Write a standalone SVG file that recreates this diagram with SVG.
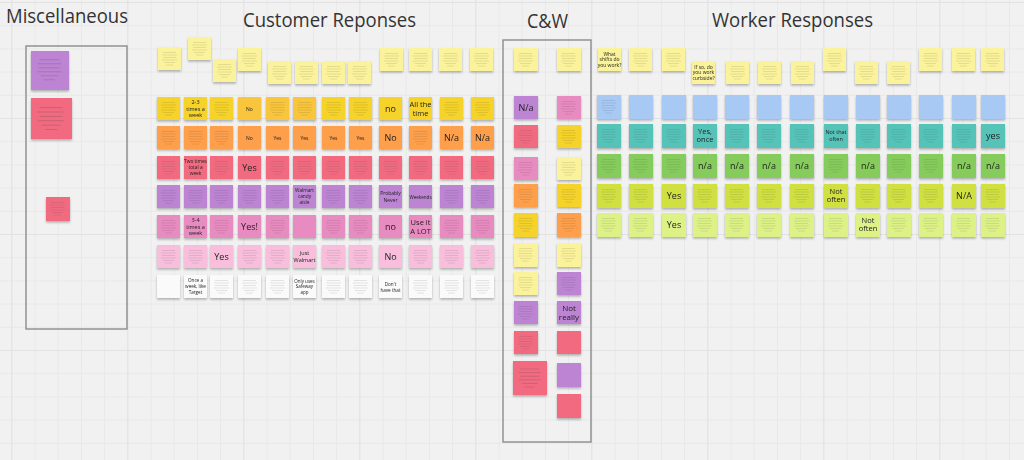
<svg xmlns="http://www.w3.org/2000/svg" xmlns:xlink="http://www.w3.org/1999/xlink" width="1024" height="460" viewBox="0 0 1024 460">
<style>
.ly{fill:#fbf39b}.y{fill:#f5d32c}.yo{fill:#f8c53c}.o{fill:#fd9f4b}.r{fill:#f16b80}.p{fill:#bd84d3}.m{fill:#e88bc0}.lp{fill:#f8bedb}.w{fill:#fafafa}.b{fill:#a7c9f3}.t{fill:#56c3b9}.g{fill:#86cc5b}.yg{fill:#cfe041}.l{fill:#dcf287}
.ttl{font-family:"Open Sans","Noto Sans",sans-serif;fill:#333;font-size:20px}
.n{font-family:"Open Sans","Noto Sans",sans-serif;fill:#222;text-anchor:middle}
.frame{fill:none;stroke:#8c8c8c;stroke-width:1.4}
</style>
<defs>
<pattern id="gmin" x="11.3" y="2" width="23.2" height="23.2" patternUnits="userSpaceOnUse"><path d="M0.5 0V23.2M0 0.5H23.2" stroke="#e8e8e8" stroke-width="1" fill="none"/></pattern>
<pattern id="gmaj" x="11.3" y="2" width="116" height="116" patternUnits="userSpaceOnUse"><path d="M0.5 0V116M0 0.5H116" stroke="#e2e2e2" stroke-width="1.2" fill="none"/></pattern>
<filter id="sh" x="-10%" y="-10%" width="120%" height="130%"><feDropShadow dx="0" dy="1.6" stdDeviation="1" flood-color="#000" flood-opacity="0.28"/></filter>
<symbol id="tx" overflow="visible"><path d="M5 5.5h13M4 8h15M5 10.5h13M4 13h15M6 15.5h11M8 18h7" stroke="#333" stroke-opacity="0.24" stroke-width="0.5" fill="none"/></symbol>
</defs>
<rect width="1024" height="460" fill="#f1f1f1"/>
<rect width="1024" height="460" fill="url(#gmin)"/>
<rect width="1024" height="460" fill="url(#gmaj)"/>

<g id="titles">
<text class="ttl" x="6" y="23" font-size="21" textLength="122" lengthAdjust="spacingAndGlyphs">Miscellaneous</text>
<text class="ttl" x="243" y="27" textLength="173" lengthAdjust="spacingAndGlyphs">Customer Reponses</text>
<text class="ttl" x="527" y="28" textLength="41" lengthAdjust="spacingAndGlyphs">C&amp;W</text>
<text class="ttl" x="712" y="27" textLength="161" lengthAdjust="spacingAndGlyphs">Worker Responses</text>
</g>

<g id="frames">
<rect id="frame-misc" class="frame" x="26" y="46" width="101" height="283"/>
<rect id="frame-cw" class="frame" x="503" y="40" width="88" height="402"/>
</g>

<g id="connectors"></g>

<g id="stickies" filter="url(#sh)">
<!-- Miscellaneous -->
<g id="misc-1"><rect class="p" x="31" y="51" width="38" height="39"/><use href="#tx" transform="translate(31 51) scale(1.6)"/></g>
<g id="misc-2"><rect class="r" x="31" y="98" width="41" height="41"/><use href="#tx" transform="translate(31 98) scale(1.75)"/></g>
<g id="misc-3"><rect class="r" x="46" y="197" width="24" height="24"/><use href="#tx" x="46" y="197"/></g>

<!-- Customer questions -->
<g id="cq1"><rect class="ly" x="158" y="47" width="23" height="23"/><use href="#tx" x="158" y="47"/></g>
<g id="cq2"><rect class="ly" x="188" y="37" width="23" height="23"/><use href="#tx" x="188" y="37"/></g>
<g id="cq3"><rect class="ly" x="213" y="59" width="23" height="23"/><use href="#tx" x="213" y="59"/></g>
<g id="cq4"><rect class="ly" x="238" y="48" width="23" height="23"/><use href="#tx" x="238" y="48"/></g>
<g id="cq5"><rect class="ly" x="268" y="61" width="23" height="23"/><use href="#tx" x="268" y="61"/></g>
<g id="cq6"><rect class="ly" x="295" y="61" width="23" height="23"/><use href="#tx" x="295" y="61"/></g>
<g id="cq7"><rect class="ly" x="322" y="61" width="23" height="23"/><use href="#tx" x="322" y="61"/></g>
<g id="cq8"><rect class="ly" x="348" y="61" width="23" height="23"/><use href="#tx" x="348" y="61"/></g>
<g id="cq9"><rect class="ly" x="380" y="48" width="23" height="23"/><use href="#tx" x="380" y="48"/></g>
<g id="cq10"><rect class="ly" x="409" y="48" width="23" height="23"/><use href="#tx" x="409" y="48"/></g>
<g id="cq11"><rect class="ly" x="439" y="48" width="23" height="23"/><use href="#tx" x="439" y="48"/></g>
<g id="cq12"><rect class="ly" x="470" y="48" width="23" height="23"/><use href="#tx" x="470" y="48"/></g>

<!-- Customer row 1 -->
<g id="c1-1"><rect class="y" x="157" y="97" width="23" height="23"/><use href="#tx" x="157" y="97"/></g>
<g id="c1-2"><rect class="y" x="184" y="97" width="23" height="23"/><text class="n" font-size="5.5"><tspan x="195.5" y="104">2-3</tspan><tspan x="195.5" y="110.5">times a</tspan><tspan x="195.5" y="117">week</tspan></text></g>
<g id="c1-3"><rect class="y" x="210" y="97" width="23" height="23"/><use href="#tx" x="210" y="97"/></g>
<g id="c1-4"><rect class="yo" x="238" y="97" width="23" height="23"/><text class="n" font-size="5" x="249.5" y="110.5">No</text></g>
<g id="c1-5"><rect class="yo" x="266" y="97" width="23" height="23"/><use href="#tx" x="266" y="97"/></g>
<g id="c1-6"><rect class="yo" x="293" y="97" width="23" height="23"/><use href="#tx" x="293" y="97"/></g>
<g id="c1-7"><rect class="y" x="322" y="97" width="23" height="23"/><use href="#tx" x="322" y="97"/></g>
<g id="c1-8"><rect class="y" x="349" y="97" width="23" height="23"/><use href="#tx" x="349" y="97"/></g>
<g id="c1-9"><rect class="y" x="379" y="97" width="23" height="23"/><text class="n" font-size="9" x="390.5" y="111.5">no</text></g>
<g id="c1-10"><rect class="y" x="409" y="97" width="23" height="23"/><text class="n" font-size="7.5"><tspan x="420.5" y="107">All the</tspan><tspan x="420.5" y="115.5">time</tspan></text></g>
<g id="c1-11"><rect class="y" x="440" y="97" width="23" height="23"/><use href="#tx" x="440" y="97"/></g>
<g id="c1-12"><rect class="y" x="471" y="97" width="23" height="23"/><use href="#tx" x="471" y="97"/></g>

<!-- Customer row 2 -->
<g id="c2-1"><rect class="o" x="157" y="126" width="23" height="23"/><use href="#tx" x="157" y="126"/></g>
<g id="c2-2"><rect class="o" x="184" y="126" width="23" height="23"/><use href="#tx" x="184" y="126"/></g>
<g id="c2-3"><rect class="o" x="210" y="126" width="23" height="23"/><use href="#tx" x="210" y="126"/></g>
<g id="c2-4"><rect class="o" x="238" y="126" width="23" height="23"/><text class="n" font-size="5" x="249.5" y="139.5">No</text></g>
<g id="c2-5"><rect class="o" x="266" y="126" width="23" height="23"/><text class="n" font-size="5" x="277.5" y="139.5">Yes</text></g>
<g id="c2-6"><rect class="o" x="293" y="126" width="23" height="23"/><text class="n" font-size="5" x="304.5" y="139.5">Yes</text></g>
<g id="c2-7"><rect class="o" x="322" y="126" width="23" height="23"/><text class="n" font-size="5" x="333.5" y="139.5">Yes</text></g>
<g id="c2-8"><rect class="o" x="349" y="126" width="23" height="23"/><text class="n" font-size="5" x="360.5" y="139.5">Yes</text></g>
<g id="c2-9"><rect class="o" x="379" y="126" width="23" height="23"/><text class="n" font-size="9" x="390.5" y="140.5">No</text></g>
<g id="c2-10"><rect class="o" x="409" y="126" width="23" height="23"/><use href="#tx" x="409" y="126"/></g>
<g id="c2-11"><rect class="o" x="440" y="126" width="23" height="23"/><text class="n" font-size="9" x="451.5" y="140.5">N/a</text></g>
<g id="c2-12"><rect class="o" x="471" y="126" width="23" height="23"/><text class="n" font-size="9" x="482.5" y="140.5">N/a</text></g>

<!-- Customer row 3 -->
<g id="c3-1"><rect class="r" x="157" y="156" width="23" height="23"/><use href="#tx" x="157" y="156"/></g>
<g id="c3-2"><rect class="r" x="184" y="156" width="23" height="23"/><text class="n" font-size="4.8"><tspan x="195.5" y="163">Two times</tspan><tspan x="195.5" y="169">total a</tspan><tspan x="195.5" y="175">week</tspan></text></g>
<g id="c3-3"><rect class="r" x="210" y="156" width="23" height="23"/><use href="#tx" x="210" y="156"/></g>
<g id="c3-4"><rect class="r" x="238" y="156" width="23" height="23"/><text class="n" font-size="9" x="249.5" y="170.5">Yes</text></g>
<g id="c3-5"><rect class="r" x="266" y="156" width="23" height="23"/><use href="#tx" x="266" y="156"/></g>
<g id="c3-6"><rect class="r" x="293" y="156" width="23" height="23"/><use href="#tx" x="293" y="156"/></g>
<g id="c3-7"><rect class="r" x="322" y="156" width="23" height="23"/><use href="#tx" x="322" y="156"/></g>
<g id="c3-8"><rect class="r" x="349" y="156" width="23" height="23"/><use href="#tx" x="349" y="156"/></g>
<g id="c3-9"><rect class="r" x="379" y="156" width="23" height="23"/><use href="#tx" x="379" y="156"/></g>
<g id="c3-10"><rect class="r" x="409" y="156" width="23" height="23"/><use href="#tx" x="409" y="156"/></g>
<g id="c3-11"><rect class="r" x="440" y="156" width="23" height="23"/><use href="#tx" x="440" y="156"/></g>
<g id="c3-12"><rect class="r" x="471" y="156" width="23" height="23"/><use href="#tx" x="471" y="156"/></g>

<!-- Customer row 4 -->
<g id="c4-1"><rect class="p" x="157" y="185" width="23" height="23"/><use href="#tx" x="157" y="185"/></g>
<g id="c4-2"><rect class="p" x="184" y="185" width="23" height="23"/><use href="#tx" x="184" y="185"/></g>
<g id="c4-3"><rect class="p" x="210" y="185" width="23" height="23"/><use href="#tx" x="210" y="185"/></g>
<g id="c4-4"><rect class="p" x="238" y="185" width="23" height="23"/><use href="#tx" x="238" y="185"/></g>
<g id="c4-5"><rect class="p" x="266" y="185" width="23" height="23"/><use href="#tx" x="266" y="185"/></g>
<g id="c4-6"><rect class="p" x="293" y="185" width="23" height="23"/><text class="n" font-size="4.8"><tspan x="304.5" y="192">Walmart</tspan><tspan x="304.5" y="198">candy</tspan><tspan x="304.5" y="204">aisle</tspan></text></g>
<g id="c4-7"><rect class="p" x="322" y="185" width="23" height="23"/><use href="#tx" x="322" y="185"/></g>
<g id="c4-8"><rect class="p" x="349" y="185" width="23" height="23"/><use href="#tx" x="349" y="185"/></g>
<g id="c4-9"><rect class="p" x="379" y="185" width="23" height="23"/><text class="n" font-size="5"><tspan x="390.5" y="195">Probably</tspan><tspan x="390.5" y="202">Never</tspan></text></g>
<g id="c4-10"><rect class="p" x="409" y="185" width="23" height="23"/><text class="n" font-size="4.6" x="420.5" y="198.5">Weekends</text></g>
<g id="c4-11"><rect class="p" x="440" y="185" width="23" height="23"/><use href="#tx" x="440" y="185"/></g>
<g id="c4-12"><rect class="p" x="471" y="185" width="23" height="23"/><use href="#tx" x="471" y="185"/></g>

<!-- Customer row 5 -->
<g id="c5-1"><rect class="m" x="157" y="215" width="23" height="23"/><use href="#tx" x="157" y="215"/></g>
<g id="c5-2"><rect class="m" x="184" y="215" width="23" height="23"/><text class="n" font-size="5.5"><tspan x="195.5" y="222">3-4</tspan><tspan x="195.5" y="228.5">times a</tspan><tspan x="195.5" y="235">week</tspan></text></g>
<g id="c5-3"><rect class="m" x="210" y="215" width="23" height="23"/><use href="#tx" x="210" y="215"/></g>
<g id="c5-4"><rect class="m" x="238" y="215" width="23" height="23"/><text class="n" font-size="9" x="249.5" y="229.5">Yes!</text></g>
<g id="c5-5"><rect class="m" x="266" y="215" width="23" height="23"/><use href="#tx" x="266" y="215"/></g>
<g id="c5-6"><rect class="m" x="293" y="215" width="23" height="23"/></g>
<g id="c5-7"><rect class="m" x="322" y="215" width="23" height="23"/><use href="#tx" x="322" y="215"/></g>
<g id="c5-8"><rect class="m" x="349" y="215" width="23" height="23"/><use href="#tx" x="349" y="215"/></g>
<g id="c5-9"><rect class="m" x="379" y="215" width="23" height="23"/><text class="n" font-size="9" x="390.5" y="229.5">no</text></g>
<g id="c5-10"><rect class="m" x="409" y="215" width="23" height="23"/><text class="n" font-size="7.5"><tspan x="420.5" y="225">Use it</tspan><tspan x="420.5" y="233.5">A LOT</tspan></text></g>
<g id="c5-11"><rect class="m" x="440" y="215" width="23" height="23"/><use href="#tx" x="440" y="215"/></g>
<g id="c5-12"><rect class="m" x="471" y="215" width="23" height="23"/><use href="#tx" x="471" y="215"/></g>

<!-- Customer row 6 -->
<g id="c6-1"><rect class="lp" x="157" y="245" width="23" height="23"/><use href="#tx" x="157" y="245"/></g>
<g id="c6-2"><rect class="lp" x="184" y="245" width="23" height="23"/><use href="#tx" x="184" y="245"/></g>
<g id="c6-3"><rect class="lp" x="210" y="245" width="23" height="23"/><text class="n" font-size="9" x="221.5" y="259.5">Yes</text></g>
<g id="c6-4"><rect class="lp" x="238" y="245" width="23" height="23"/><use href="#tx" x="238" y="245"/></g>
<g id="c6-5"><rect class="lp" x="266" y="245" width="23" height="23"/><use href="#tx" x="266" y="245"/></g>
<g id="c6-6"><rect class="lp" x="293" y="245" width="23" height="23"/><text class="n" font-size="5.5"><tspan x="304.5" y="254.5">Just</tspan><tspan x="304.5" y="261.5">Walmart</tspan></text></g>
<g id="c6-7"><rect class="lp" x="322" y="245" width="23" height="23"/><use href="#tx" x="322" y="245"/></g>
<g id="c6-8"><rect class="lp" x="349" y="245" width="23" height="23"/><use href="#tx" x="349" y="245"/></g>
<g id="c6-9"><rect class="lp" x="379" y="245" width="23" height="23"/><text class="n" font-size="9" x="390.5" y="259.5">No</text></g>
<g id="c6-10"><rect class="lp" x="409" y="245" width="23" height="23"/><use href="#tx" x="409" y="245"/></g>
<g id="c6-11"><rect class="lp" x="440" y="245" width="23" height="23"/><use href="#tx" x="440" y="245"/></g>
<g id="c6-12"><rect class="lp" x="471" y="245" width="23" height="23"/><use href="#tx" x="471" y="245"/></g>

<!-- Customer row 7 -->
<g id="c7-1"><rect class="w" x="157" y="275" width="23" height="23"/></g>
<g id="c7-2"><rect class="w" x="184" y="275" width="23" height="23"/><text class="n" font-size="4.6"><tspan x="195.5" y="282">Once a</tspan><tspan x="195.5" y="288">week, like</tspan><tspan x="195.5" y="294">Target</tspan></text></g>
<g id="c7-3"><rect class="w" x="210" y="275" width="23" height="23"/><use href="#tx" x="210" y="275"/></g>
<g id="c7-4"><rect class="w" x="238" y="275" width="23" height="23"/><use href="#tx" x="238" y="275"/></g>
<g id="c7-5"><rect class="w" x="266" y="275" width="23" height="23"/><use href="#tx" x="266" y="275"/></g>
<g id="c7-6"><rect class="w" x="293" y="275" width="23" height="23"/><text class="n" font-size="4.5"><tspan x="304.5" y="282.5">Only uses</tspan><tspan x="304.5" y="288">Safeway</tspan><tspan x="304.5" y="293.5">app</tspan></text></g>
<g id="c7-7"><rect class="w" x="322" y="275" width="23" height="23"/><use href="#tx" x="322" y="275"/></g>
<g id="c7-8"><rect class="w" x="349" y="275" width="23" height="23"/><use href="#tx" x="349" y="275"/></g>
<g id="c7-9"><rect class="w" x="379" y="275" width="23" height="23"/><text class="n" font-size="4.6"><tspan x="390.5" y="285.5">Don't</tspan><tspan x="390.5" y="291.5">have that</tspan></text></g>
<g id="c7-10"><rect class="w" x="409" y="275" width="23" height="23"/><use href="#tx" x="409" y="275"/></g>
<g id="c7-11"><rect class="w" x="440" y="275" width="23" height="23"/><use href="#tx" x="440" y="275"/></g>
<g id="c7-12"><rect class="w" x="471" y="275" width="23" height="23"/><use href="#tx" x="471" y="275"/></g>

<!-- C&W left column -->
<g id="cwL1"><rect class="ly" x="514" y="48" width="24" height="23"/><use href="#tx" x="514" y="48"/></g>
<g id="cwL2"><rect class="p" x="514" y="96" width="24" height="23"/><text class="n" font-size="9" x="526" y="111">N/a</text></g>
<g id="cwL3"><rect class="r" x="514" y="125" width="24" height="23"/><use href="#tx" x="514" y="125"/></g>
<g id="cwL4"><rect class="m" x="514" y="157" width="24" height="23"/><use href="#tx" x="514" y="157"/></g>
<g id="cwL5"><rect class="o" x="514" y="184" width="24" height="23"/><use href="#tx" x="514" y="184"/></g>
<g id="cwL6"><rect class="y" x="514" y="213" width="24" height="24"/><use href="#tx" x="514" y="213"/></g>
<g id="cwL7"><rect class="ly" x="514" y="243" width="24" height="24"/><use href="#tx" x="514" y="243"/></g>
<g id="cwL8"><rect class="ly" x="514" y="272" width="24" height="23"/><use href="#tx" x="514" y="272"/></g>
<g id="cwL9"><rect class="p" x="514" y="301" width="24" height="23"/><use href="#tx" x="514" y="301"/></g>
<g id="cwL10"><rect class="r" x="514" y="331" width="24" height="23"/><use href="#tx" x="514" y="331"/></g>
<g id="cwL11"><rect class="r" x="513" y="361" width="34" height="34"/><use href="#tx" transform="translate(513 361) scale(1.45)"/></g>

<!-- C&W right column -->
<g id="cwR1"><rect class="ly" x="557" y="48" width="24" height="23"/><use href="#tx" x="557" y="48"/></g>
<g id="cwR2"><rect class="m" x="557" y="96" width="24" height="23"/><use href="#tx" x="557" y="96"/></g>
<g id="cwR3"><rect class="y" x="557" y="125" width="24" height="23"/><use href="#tx" x="557" y="125"/></g>
<g id="cwR4"><rect class="ly" x="557" y="157" width="24" height="23"/><use href="#tx" x="557" y="157"/></g>
<g id="cwR5"><rect class="y" x="557" y="184" width="24" height="23"/><use href="#tx" x="557" y="184"/></g>
<g id="cwR6"><rect class="o" x="557" y="213" width="24" height="24"/><use href="#tx" x="557" y="213"/></g>
<g id="cwR7"><rect class="ly" x="557" y="243" width="24" height="24"/><use href="#tx" x="557" y="243"/></g>
<g id="cwR8"><rect class="p" x="557" y="272" width="24" height="23"/><use href="#tx" x="557" y="272"/></g>
<g id="cwR9"><rect class="p" x="557" y="301" width="24" height="23"/><text class="n" font-size="8"><tspan x="569" y="310.5">Not</tspan><tspan x="569" y="319.5">really</tspan></text></g>
<g id="cwR10"><rect class="r" x="557" y="331" width="24" height="23"/></g>
<g id="cwR11"><rect class="p" x="557" y="363" width="24" height="24"/></g>
<g id="cwR12"><rect class="r" x="557" y="394" width="24" height="24"/></g>

<!-- Worker questions -->
<g id="wq1"><rect class="ly" x="598" y="48" width="23" height="23"/><text class="n" font-size="5"><tspan x="609.5" y="55.5">What</tspan><tspan x="609.5" y="61">shifts do</tspan><tspan x="609.5" y="66.5">you work?</tspan></text></g>
<g id="wq2"><rect class="ly" x="629" y="48" width="23" height="23"/><use href="#tx" x="629" y="48"/></g>
<g id="wq3"><rect class="ly" x="662" y="48" width="23" height="23"/><use href="#tx" x="662" y="48"/></g>
<g id="wq4"><rect class="ly" x="692" y="61" width="23" height="23"/><text class="n" font-size="5"><tspan x="703.5" y="68.5">If so, do</tspan><tspan x="703.5" y="74">you work</tspan><tspan x="703.5" y="79.5">curbside?</tspan></text></g>
<g id="wq5"><rect class="ly" x="726" y="61" width="23" height="23"/><use href="#tx" x="726" y="61"/></g>
<g id="wq6"><rect class="ly" x="758" y="61" width="23" height="23"/><use href="#tx" x="758" y="61"/></g>
<g id="wq7"><rect class="ly" x="791" y="61" width="23" height="23"/><use href="#tx" x="791" y="61"/></g>
<g id="wq8"><rect class="ly" x="823" y="48" width="23" height="23"/><use href="#tx" x="823" y="48"/></g>
<g id="wq9"><rect class="ly" x="855" y="61" width="23" height="23"/><use href="#tx" x="855" y="61"/></g>
<g id="wq10"><rect class="ly" x="887" y="61" width="23" height="23"/><use href="#tx" x="887" y="61"/></g>
<g id="wq11"><rect class="ly" x="919" y="48" width="23" height="23"/><use href="#tx" x="919" y="48"/></g>
<g id="wq12"><rect class="ly" x="952" y="48" width="23" height="23"/><use href="#tx" x="952" y="48"/></g>
<g id="wq13"><rect class="ly" x="981" y="48" width="23" height="23"/><use href="#tx" x="981" y="48"/></g>

<!-- Worker row 1 -->
<g id="w1-1"><rect class="b" x="597" y="95" width="24" height="24"/><use href="#tx" x="597" y="95"/></g>
<g id="w1-2"><rect class="b" x="629" y="95" width="24" height="24"/></g>
<g id="w1-3"><rect class="b" x="662" y="95" width="24" height="24"/></g>
<g id="w1-4"><rect class="b" x="693" y="95" width="24" height="24"/></g>
<g id="w1-5"><rect class="b" x="725" y="95" width="24" height="24"/></g>
<g id="w1-6"><rect class="b" x="757" y="95" width="24" height="24"/></g>
<g id="w1-7"><rect class="b" x="790" y="95" width="24" height="24"/></g>
<g id="w1-8"><rect class="b" x="824" y="95" width="24" height="24"/></g>
<g id="w1-9"><rect class="b" x="856" y="95" width="24" height="24"/></g>
<g id="w1-10"><rect class="b" x="887" y="95" width="24" height="24"/></g>
<g id="w1-11"><rect class="b" x="919" y="95" width="24" height="24"/></g>
<g id="w1-12"><rect class="b" x="952" y="95" width="24" height="24"/></g>
<g id="w1-13"><rect class="b" x="981" y="95" width="24" height="24"/></g>

<!-- Worker row 2 -->
<g id="w2-1"><rect class="t" x="597" y="124" width="24" height="24"/><use href="#tx" x="597" y="124"/></g>
<g id="w2-2"><rect class="t" x="629" y="124" width="24" height="24"/><use href="#tx" x="629" y="124"/></g>
<g id="w2-3"><rect class="t" x="662" y="124" width="24" height="24"/><use href="#tx" x="662" y="124"/></g>
<g id="w2-4"><rect class="t" x="693" y="124" width="24" height="24"/><text class="n" font-size="7.5"><tspan x="705" y="133.5">Yes,</tspan><tspan x="705" y="142">once</tspan></text></g>
<g id="w2-5"><rect class="t" x="725" y="124" width="24" height="24"/><use href="#tx" x="725" y="124"/></g>
<g id="w2-6"><rect class="t" x="757" y="124" width="24" height="24"/><use href="#tx" x="757" y="124"/></g>
<g id="w2-7"><rect class="t" x="790" y="124" width="24" height="24"/><use href="#tx" x="790" y="124"/></g>
<g id="w2-8"><rect class="t" x="824" y="124" width="24" height="24"/><text class="n" font-size="5.5"><tspan x="836" y="134">Not that</tspan><tspan x="836" y="141">often</tspan></text></g>
<g id="w2-9"><rect class="t" x="856" y="124" width="24" height="24"/><use href="#tx" x="856" y="124"/></g>
<g id="w2-10"><rect class="t" x="887" y="124" width="24" height="24"/><use href="#tx" x="887" y="124"/></g>
<g id="w2-11"><rect class="t" x="919" y="124" width="24" height="24"/><use href="#tx" x="919" y="124"/></g>
<g id="w2-12"><rect class="t" x="952" y="124" width="24" height="24"/><use href="#tx" x="952" y="124"/></g>
<g id="w2-13"><rect class="t" x="981" y="124" width="24" height="24"/><text class="n" font-size="9" x="993" y="139">yes</text></g>

<!-- Worker row 3 -->
<g id="w3-1"><rect class="g" x="597" y="154" width="24" height="24"/><use href="#tx" x="597" y="154"/></g>
<g id="w3-2"><rect class="g" x="629" y="154" width="24" height="24"/><use href="#tx" x="629" y="154"/></g>
<g id="w3-3"><rect class="g" x="662" y="154" width="24" height="24"/><use href="#tx" x="662" y="154"/></g>
<g id="w3-4"><rect class="g" x="693" y="154" width="24" height="24"/><text class="n" font-size="9" x="705" y="169">n/a</text></g>
<g id="w3-5"><rect class="g" x="725" y="154" width="24" height="24"/><text class="n" font-size="9" x="737" y="169">n/a</text></g>
<g id="w3-6"><rect class="g" x="757" y="154" width="24" height="24"/><text class="n" font-size="9" x="769" y="169">n/a</text></g>
<g id="w3-7"><rect class="g" x="790" y="154" width="24" height="24"/><text class="n" font-size="9" x="802" y="169">n/a</text></g>
<g id="w3-8"><rect class="g" x="824" y="154" width="24" height="24"/><use href="#tx" x="824" y="154"/></g>
<g id="w3-9"><rect class="g" x="856" y="154" width="24" height="24"/><text class="n" font-size="9" x="868" y="169">n/a</text></g>
<g id="w3-10"><rect class="g" x="887" y="154" width="24" height="24"/><use href="#tx" x="887" y="154"/></g>
<g id="w3-11"><rect class="g" x="919" y="154" width="24" height="24"/><use href="#tx" x="919" y="154"/></g>
<g id="w3-12"><rect class="g" x="952" y="154" width="24" height="24"/><text class="n" font-size="9" x="964" y="169">n/a</text></g>
<g id="w3-13"><rect class="g" x="981" y="154" width="24" height="24"/><text class="n" font-size="9" x="993" y="169">n/a</text></g>

<!-- Worker row 4 -->
<g id="w4-1"><rect class="yg" x="597" y="184" width="24" height="24"/><use href="#tx" x="597" y="184"/></g>
<g id="w4-2"><rect class="yg" x="629" y="184" width="24" height="24"/><use href="#tx" x="629" y="184"/></g>
<g id="w4-3"><rect class="yg" x="662" y="184" width="24" height="24"/><text class="n" font-size="9" x="674" y="199">Yes</text></g>
<g id="w4-4"><rect class="yg" x="693" y="184" width="24" height="24"/><use href="#tx" x="693" y="184"/></g>
<g id="w4-5"><rect class="yg" x="725" y="184" width="24" height="24"/><use href="#tx" x="725" y="184"/></g>
<g id="w4-6"><rect class="yg" x="757" y="184" width="24" height="24"/><use href="#tx" x="757" y="184"/></g>
<g id="w4-7"><rect class="yg" x="790" y="184" width="24" height="24"/><use href="#tx" x="790" y="184"/></g>
<g id="w4-8"><rect class="yg" x="824" y="184" width="24" height="24"/><text class="n" font-size="7.5"><tspan x="836" y="193.5">Not</tspan><tspan x="836" y="202">often</tspan></text></g>
<g id="w4-9"><rect class="yg" x="856" y="184" width="24" height="24"/><use href="#tx" x="856" y="184"/></g>
<g id="w4-10"><rect class="yg" x="887" y="184" width="24" height="24"/><use href="#tx" x="887" y="184"/></g>
<g id="w4-11"><rect class="yg" x="919" y="184" width="24" height="24"/><use href="#tx" x="919" y="184"/></g>
<g id="w4-12"><rect class="yg" x="952" y="184" width="24" height="24"/><text class="n" font-size="9" x="964" y="199">N/A</text></g>
<g id="w4-13"><rect class="yg" x="981" y="184" width="24" height="24"/><use href="#tx" x="981" y="184"/></g>

<!-- Worker row 5 -->
<g id="w5-1"><rect class="l" x="597" y="213" width="24" height="24"/><use href="#tx" x="597" y="213"/></g>
<g id="w5-2"><rect class="l" x="629" y="213" width="24" height="24"/><use href="#tx" x="629" y="213"/></g>
<g id="w5-3"><rect class="l" x="662" y="213" width="24" height="24"/><text class="n" font-size="9" x="674" y="228">Yes</text></g>
<g id="w5-4"><rect class="l" x="693" y="213" width="24" height="24"/><use href="#tx" x="693" y="213"/></g>
<g id="w5-5"><rect class="l" x="725" y="213" width="24" height="24"/><use href="#tx" x="725" y="213"/></g>
<g id="w5-6"><rect class="l" x="757" y="213" width="24" height="24"/><use href="#tx" x="757" y="213"/></g>
<g id="w5-7"><rect class="l" x="790" y="213" width="24" height="24"/><use href="#tx" x="790" y="213"/></g>
<g id="w5-8"><rect class="l" x="824" y="213" width="24" height="24"/><use href="#tx" x="824" y="213"/></g>
<g id="w5-9"><rect class="l" x="856" y="213" width="24" height="24"/><text class="n" font-size="7.5"><tspan x="868" y="222.5">Not</tspan><tspan x="868" y="231">often</tspan></text></g>
<g id="w5-10"><rect class="l" x="887" y="213" width="24" height="24"/><use href="#tx" x="887" y="213"/></g>
<g id="w5-11"><rect class="l" x="919" y="213" width="24" height="24"/><use href="#tx" x="919" y="213"/></g>
<g id="w5-12"><rect class="l" x="952" y="213" width="24" height="24"/><use href="#tx" x="952" y="213"/></g>
<g id="w5-13"><rect class="l" x="981" y="213" width="24" height="24"/><use href="#tx" x="981" y="213"/></g>
</g>
</svg>
